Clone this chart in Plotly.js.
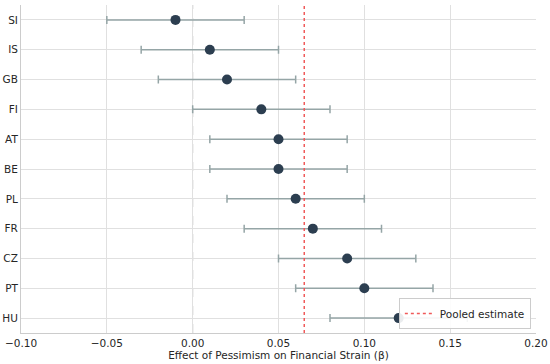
<!DOCTYPE html>
<html>
<head>
<meta charset="utf-8">
<script src="https://cdn.plot.ly/plotly-3.0.1.min.js"></script>
<style>html,body{margin:0;padding:0;background:#fff;}#chart{width:550px;height:364px;}</style>
</head>
<body>
<div id="chart"></div>
<script>
const countries = ["SI","IS","GB","FI","AT","BE","PL","FR","CZ","PT","HU"];
const effects   = [-0.01, 0.01, 0.02, 0.04, 0.05, 0.05, 0.06, 0.07, 0.09, 0.10, 0.12];
const ciLow     = [-0.05,-0.03,-0.02, 0.00, 0.01, 0.01, 0.02, 0.03, 0.05, 0.06, 0.08];
const ciHigh    = [ 0.03, 0.05, 0.06, 0.08, 0.09, 0.09, 0.10, 0.11, 0.13, 0.14, 0.16];
const pooled = 0.065;
const xTicks = [-0.10,-0.05,0.00,0.05,0.10,0.15,0.20];
const xTickLabels = ["\u22120.10","\u22120.05","0.00","0.05","0.10","0.15","0.20"];

const errPlus = effects.map((e,i)=>ciHigh[i]-e);
const errMinus = effects.map((e,i)=>e-ciLow[i]);

const traces = [{
  type: "scatter",
  mode: "markers",
  x: effects,
  y: countries,
  showlegend: false,
  marker: {color: "#2c3e50", size: 10},
  error_x: {type: "data", symmetric: false, array: errPlus, arrayminus: errMinus,
            color: "#95a5a6", thickness: 1.5, width: 4},
  hoverinfo: "x+y"
}];

const layout = {
  width: 550, height: 364,
  margin: {l: 21, r: 14, t: 5, b: 31},
  paper_bgcolor: "#fff", plot_bgcolor: "#fff",
  font: {family: "DejaVu Sans", size: 10.5, color: "#262626"},
  xaxis: {
    range: [-0.10, 0.20], tickvals: xTicks, ticktext: xTickLabels,
    showgrid: true, gridcolor: "#e0e0e0", gridwidth: 1, zeroline: false,
    showline: true, linecolor: "#cccccc", linewidth: 1, mirror: false,
    ticks: "", ticklen: 0,
    title: {text: "Effect of Pessimism on Financial Strain (\u03b2)", font: {size: 10.5, color: "#262626"}, standoff: 3}
  },
  yaxis: {
    type: "category", categoryorder: "array", categoryarray: countries,
    range: [10.5, -0.5],
    showgrid: true, gridcolor: "#e0e0e0", gridwidth: 1, zeroline: false,
    showline: true, linecolor: "#cccccc", linewidth: 1,
    ticks: "", ticklen: 0
  },
  shapes: [
    {type: "line", xref: "x", yref: "paper", x0: 0, x1: 0, y0: 0, y1: 1,
     line: {color: "#a0a0a0", width: 1, dash: "dash"}, layer: "below"},
    {type: "line", xref: "x", yref: "paper", x0: pooled, x1: pooled, y0: 0, y1: 1,
     line: {color: "#f05a5a", width: 1.5, dash: "dot"}, showlegend: true, name: "Pooled estimate"}
  ],
  showlegend: true,
  legend: {x: 0.99, y: 0.012, xanchor: "right", yanchor: "bottom",
           bgcolor: "rgba(255,255,255,0.9)", bordercolor: "#cccccc", borderwidth: 1,
           itemwidth: 30, tracegroupgap: 0,
           font: {size: 10.5, color: "#262626"}}
};

Plotly.newPlot("chart", traces, layout, {displayModeBar: false, staticPlot: true});
</script>
</body>
</html>
